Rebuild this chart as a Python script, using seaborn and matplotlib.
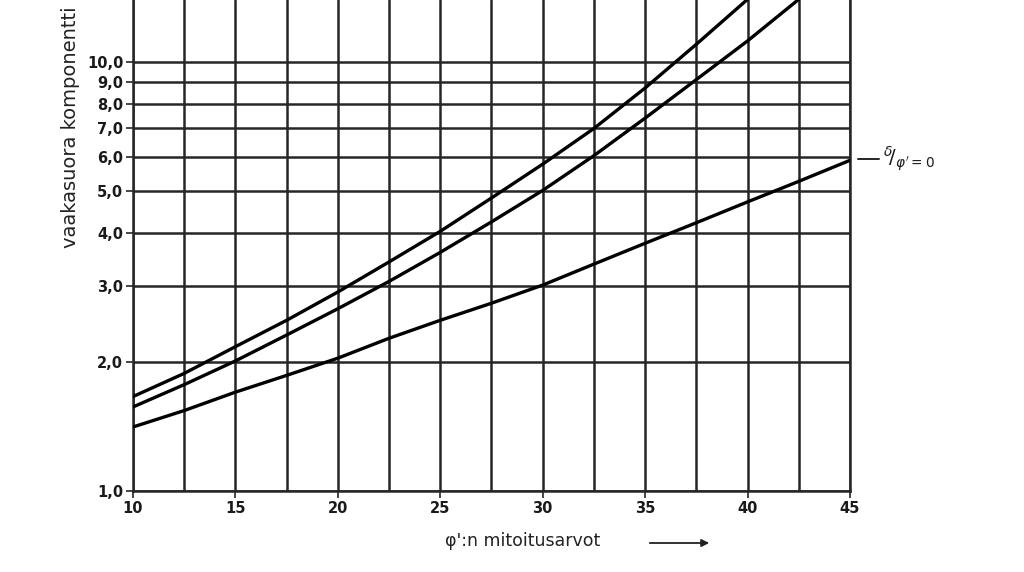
import numpy as np
import pandas as pd
import matplotlib
matplotlib.use("Agg")
import matplotlib.pyplot as plt
from matplotlib.ticker import FixedLocator, NullLocator
from matplotlib import font_manager
import seaborn as sns

# ---- data ----
phi = [10, 12.5, 15, 17.5, 20, 22.5, 25, 27.5, 30, 32.5, 35, 37.5, 40, 42.5, 45]
curve_top = [1.66, 1.88, 2.17, 2.50, 2.91, 3.42, 4.03, 4.82, 5.78, 7.00, 8.70, 11.0, 14.0, None, None]
curve_mid = [1.57, 1.77, 2.01, 2.31, 2.66, 3.08, 3.60, 4.24, 5.02, 6.05, 7.40, 9.10, 11.2, 14.0, None]
curve_low = [1.41, 1.54, 1.70, 1.86, 2.04, 2.27, 2.50, 2.74, 3.02, 3.38, 3.78, 4.22, 4.72, 5.27, 5.90]
y_ticks = [1, 2, 3, 4, 5, 6, 7, 8, 9, 10]
y_tick_labels = ["1,0", "2,0", "3,0", "4,0", "5,0", "6,0", "7,0", "8,0", "9,0", "10,0"]
x_ticks = [10, 15, 20, 25, 30, 35, 40, 45]
x_grid = [10, 12.5, 15, 17.5, 20, 22.5, 25, 27.5, 30, 32.5, 35, 37.5, 40, 42.5, 45]
ylabel = "vaakasuora komponentti"
xlabel = "φ':n mitoitusarvot"
curve_label = r"$^{\delta}\!/_{\varphi' = 0}$"

rows = []
for name, vals in [("top", curve_top), ("mid", curve_mid), ("low", curve_low)]:
    for x, v in zip(phi, vals):
        if v is not None:
            rows.append({"phi": x, "value": v, "curve": name})
df = pd.DataFrame(rows)

sns.set_theme(style="white")
plt.rcParams["font.family"] = ["DejaVu Sans"]

available = {f.name for f in font_manager.fontManager.ttflist}
tick_family = "Liberation Sans Narrow" if "Liberation Sans Narrow" in available else "DejaVu Sans"

fig = plt.figure(figsize=(10.24, 5.72), dpi=100)
ax = fig.add_axes([133 / 1024, 81 / 572, 717 / 1024, 491 / 572])

ymax = 10 ** (491 / 429)
ax.set_yscale("log")
ax.set_xlim(10, 45)
ax.set_ylim(1, ymax)

grid_col = "#262626"
for gx in x_grid:
    ax.axvline(gx, color=grid_col, lw=1.8, zorder=1)
for gy in y_ticks:
    ax.axhline(gy, color=grid_col, lw=1.8, zorder=1)

sns.lineplot(data=df, x="phi", y="value", hue="curve",
             palette={"top": "black", "mid": "black", "low": "black"},
             lw=2.4, legend=False, ax=ax, zorder=3)

ax.spines["top"].set_visible(False)
for s in ["left", "bottom", "right"]:
    ax.spines[s].set_visible(True)
    ax.spines[s].set_color(grid_col)
    ax.spines[s].set_linewidth(1.8)

ax.yaxis.set_major_locator(FixedLocator(y_ticks))
ax.yaxis.set_minor_locator(NullLocator())
ax.set_yticklabels(y_tick_labels)
ax.xaxis.set_major_locator(FixedLocator(x_ticks))
ax.xaxis.set_minor_locator(NullLocator())
ax.set_xticklabels([str(v) for v in x_ticks])
ax.tick_params(axis="both", which="major", direction="out", length=5, width=1.2,
               color=grid_col, labelsize=10.5, pad=2, left=True, bottom=True,
               right=False, top=False)
for lab in ax.get_yticklabels() + ax.get_xticklabels():
    lab.set_fontfamily(tick_family)
    lab.set_fontweight("bold")
    lab.set_color("#1a1a1a")

ax.set_xlabel("")
ax.set_ylabel(ylabel, fontsize=14, color="#222222")
ax.yaxis.set_label_coords(-0.074, 0.74)

fig.text(523 / 1024, 1 - 541 / 572, xlabel, ha="center", va="center",
         fontsize=12.5, color="#222222")
fig.add_artist(matplotlib.patches.FancyArrowPatch(
    (647 / 1024, 1 - 543 / 572), (712 / 1024, 1 - 543 / 572),
    transform=fig.transFigure, arrowstyle="-|>", mutation_scale=11,
    color="#222222", lw=1.3))

# curve label for the lowest curve
ax.plot([45.4, 46.4], [5.95, 5.95], color=grid_col, lw=1.4, clip_on=False)
ax.text(46.6, 5.95, curve_label, fontsize=14, va="center", ha="left", color="#1a1a1a")

fig.savefig("out.png", dpi=100)
